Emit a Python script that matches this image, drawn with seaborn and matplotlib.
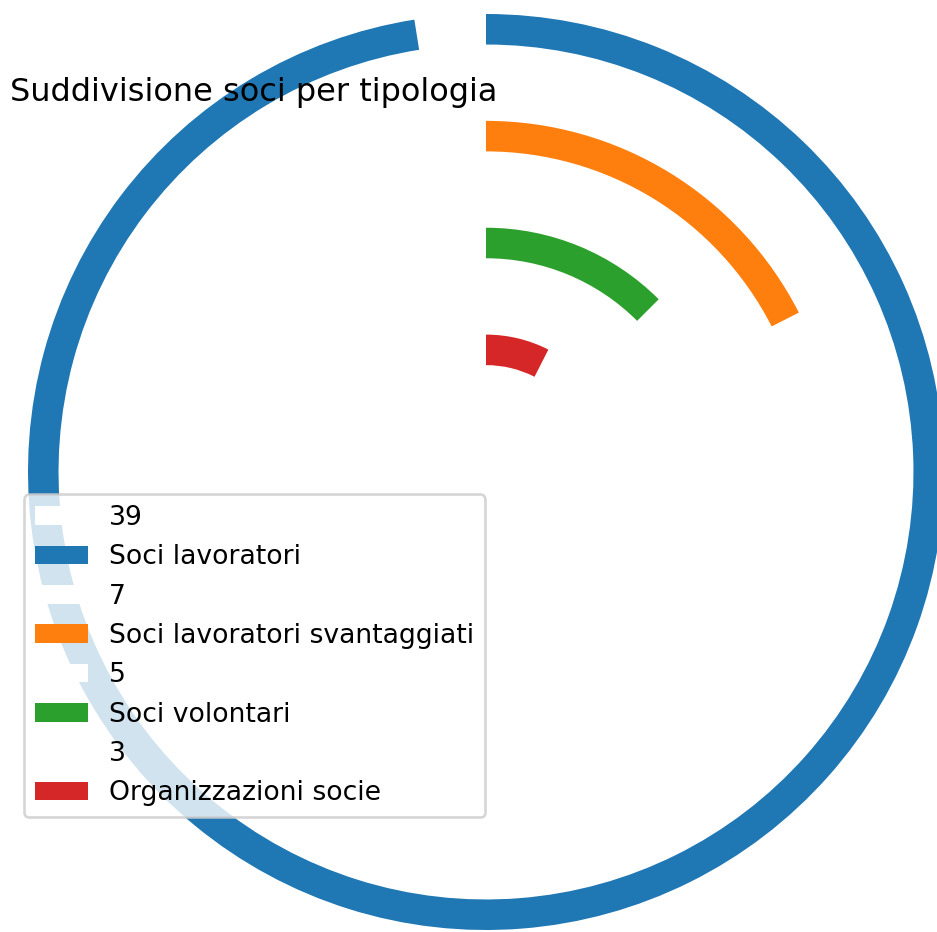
import matplotlib
matplotlib.use("Agg")
import matplotlib.pyplot as plt
import seaborn as sns

# Data
categories = ['Soci lavoratori', 'Soci lavoratori svantaggiati', 'Soci volontari', 'Organizzazioni socie']
counts = [39, 7, 5, 3]
max_count = 40

colors = sns.color_palette('tab10', len(categories))

W, H, DPI = 937, 932, 192
fig = plt.figure(figsize=(W / DPI, H / DPI), dpi=DPI)
ax = fig.add_axes([0, 0, 1, 1])

# one ring per category, outer to inner
for i, (name, n) in enumerate(zip(categories, counts)):
    ax.pie([max_count - n, n], radius=1.5 - i * 0.35, startangle=90,
           colors=['white', colors[i]], labels=[str(n), name],
           labeldistance=None, wedgeprops={'width': 0.1})

# place the pie: centre at (486, 472) px, 1.5 units = 458 px
scale = 458 / 1.5
cx, cy = 486, 472
ax.set_xlim(-cx / scale, (W - cx) / scale)
ax.set_ylim(-(H - cy) / scale, cy / scale)
ax.set_aspect('equal', adjustable='datalim')
ax.axis('off')

fig.text(10 / W, 1 - 101 / H, 'Suddivisione soci per tipologia',
         fontsize=12, ha='left', va='baseline')

ax.legend(loc='lower left', bbox_to_anchor=(24 / W, 115 / H),
          bbox_transform=fig.transFigure, borderaxespad=0)

fig.savefig('out.png', dpi=DPI)
